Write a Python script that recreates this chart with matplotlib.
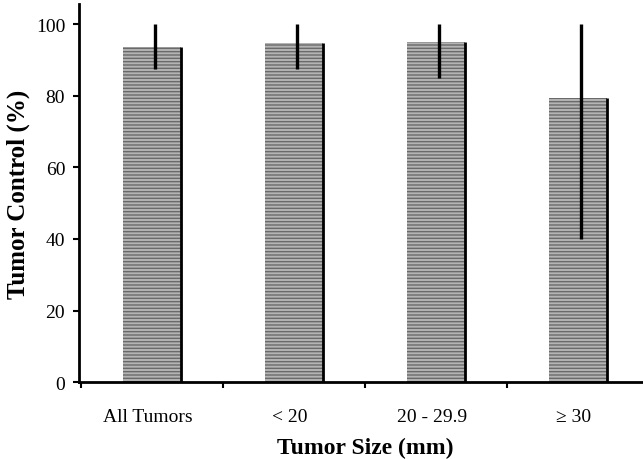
import numpy as np
import matplotlib.pyplot as plt

categories = ["All Tumors", "< 20", "20 - 29.9", "\u2265 30"]
control = [93.6, 94.6, 95.0, 79.3]
err_low = [87.4, 87.4, 85.0, 40.0]
err_high = [100, 100, 100, 100]

plt.rcParams['font.family'] = ['Liberation Serif', 'DejaVu Serif']

fig = plt.figure(figsize=(6.43, 4.60), dpi=100)
ax = fig.add_axes([0.123, 0.167, 0.877, 0.822])

x = np.arange(len(categories))
w = 0.41
ax.bar(x, control, width=w, color="#b4b4b4", edgecolor="#6a6a6a",
       hatch="-----", linewidth=0, zorder=2)
# dark right edge of each bar
ax.vlines(x + w / 2, 0, control, color="black", linewidth=2, zorder=3)
# error bars: plain line from lower to upper bound, no caps
ax.vlines(x + 0.02, err_low, err_high, color="black", linewidth=2.4, zorder=4)

ax.set_xlim(-0.514, 3.46)
ax.set_ylim(0, 105.6)
ax.set_yticks([0, 20, 40, 60, 80, 100])
ax.set_xticks([-0.5, 0.5, 1.5, 2.5])
ax.set_xticklabels([])
ax.tick_params(axis="x", direction="out", length=4, width=1.5)
ax.tick_params(axis="y", direction="out", length=4, width=1.5, labelsize=14, pad=6)
for xi, lab in zip(x, categories):
    ax.text(xi - 0.03, -9.5, lab, ha="center", va="center", fontsize=14)

for s in ["top", "right"]:
    ax.spines[s].set_visible(False)
ax.spines["left"].set_linewidth(2)
ax.spines["bottom"].set_linewidth(2)

ax.set_ylabel("Tumor Control (%)", fontsize=18, fontweight="bold", labelpad=4)
ax.text(1.5, -18.3, "Tumor Size (mm)", ha="center", va="center",
        fontsize=17, fontweight="bold")

fig.savefig("out.png", dpi=100)
